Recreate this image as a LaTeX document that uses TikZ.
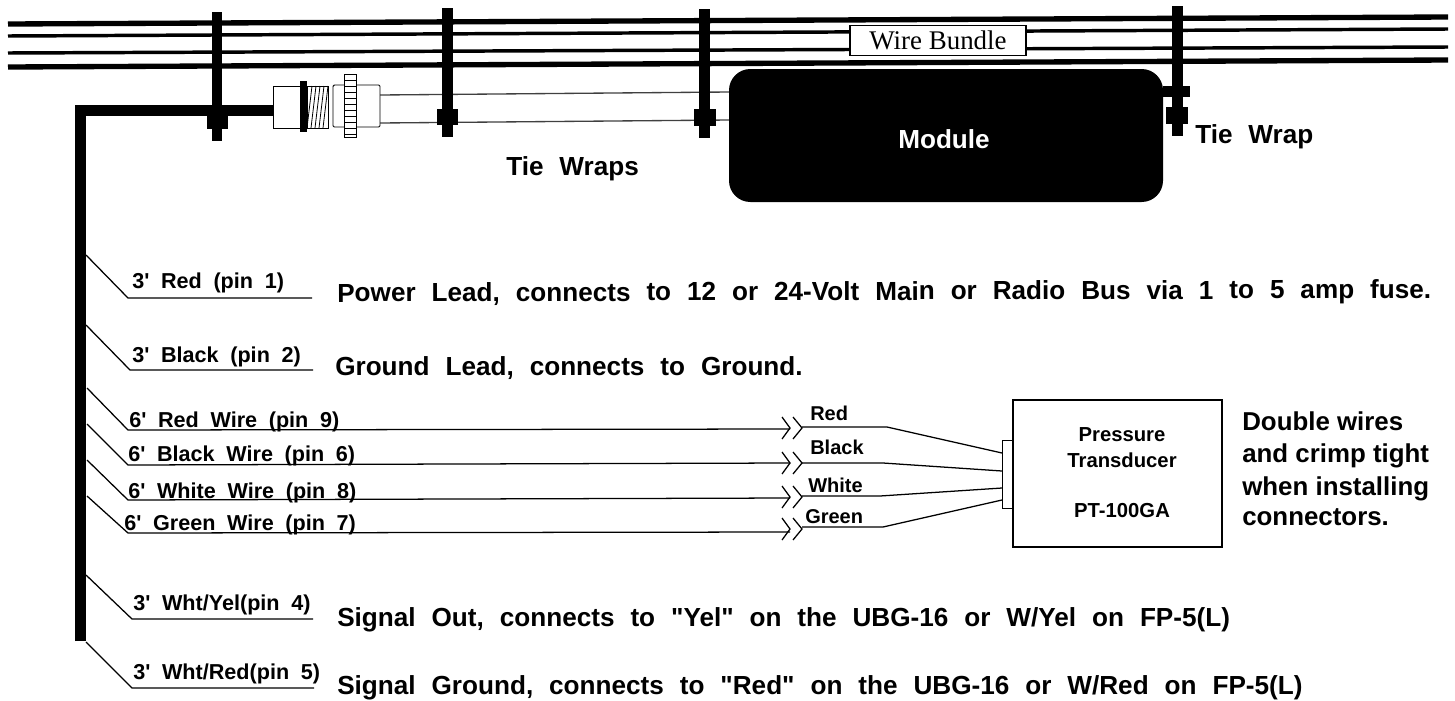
\documentclass[tikz,border=0pt]{standalone}
\usepackage{fontspec}
\newfontfamily\nfont{Liberation Sans}
\newfontfamily\wbfont{Liberation Serif}
\newcommand{\smallgap}{\spaceskip=0.54em\relax}
\newcommand{\biggap}{\spaceskip=0.61em\relax}
\tikzset{
  px/.style={x=0.75pt,y=-0.75pt},
  bundle thick/.style={line width=4pt,black},
  bundle thin/.style={line width=2.6pt,black},
  tie/.style={fill=black,draw=none},
  leadline/.style={line width=0.95pt,black},
  small/.style={font=\nfont\fontsize{16.2pt}{18pt}\selectfont\bfseries\smallgap,anchor=base west,inner sep=0pt},
  big/.style={font=\nfont\fontsize{19.6pt}{22pt}\selectfont\bfseries\biggap,anchor=base west,inner sep=0pt},
  note/.style={font=\nfont\fontsize{19.4pt}{22pt}\selectfont\bfseries,anchor=base west,inner sep=0pt},
  mid/.style={font=\nfont\fontsize{15.2pt}{18pt}\selectfont\bfseries,anchor=base,inner sep=0pt},
  wirelabel/.style={font=\nfont\fontsize{15pt}{18pt}\selectfont\bfseries,anchor=base west,inner sep=0pt},
  thinbody/.style={draw=black,line width=0.7pt,fill=white},
}
\newcommand{\chev}[2]{%
  \draw[leadline] (#1-8,#2-11) -- (#1,#2) -- (#1-8,#2+11);
  \draw[leadline] (#1+3,#2-11) -- (#1+12,#2) -- (#1+3,#2+11);
}
\begin{document}
\begin{tikzpicture}[px]
\useasboundingbox (0,0) rectangle (1455,700);
\fill[white] (0,0) rectangle (1455,700);
% wire bundle
\coordinate (w1l) at (8,24); \coordinate (w1r) at (1448,17);
\coordinate (w2l) at (8,36); \coordinate (w2r) at (1448,29);
\coordinate (w3l) at (8,53); \coordinate (w3r) at (1448,47);
\coordinate (w4l) at (8,67); \coordinate (w4r) at (1448,60);
\draw[bundle thick] (w1l) -- (w1r);
\draw[bundle thin] (w2l) -- (w2r);
\draw[bundle thin] (w3l) -- (w3r);
\draw[bundle thick] (w4l) -- (w4r);
\node[draw=black,line width=0.9pt,fill=white,minimum width=132pt,minimum height=23pt,inner sep=0pt,font=\wbfont\fontsize{20.2pt}{22pt}\selectfont] (bundle) at (938,40.5) {Wire Bundle};
% main cable
\draw[line width=8pt,black,line join=miter] (80.5,641) -- (80.5,110.5) -- (275,110.5);
% connector
\coordinate (cu) at (380,95); \coordinate (cl) at (380,123);
\coordinate (mu) at (729,92); \coordinate (ml) at (729,120);
\draw[line width=1pt,black!75] (cu) -- (mu);
\draw[line width=1pt,black!75] (cl) -- (ml);
\draw[thinbody] (273,86) rectangle (301,128);
\draw[thinbody] (307,86) rectangle (328,128);
\foreach \xx in {307,311,...,323}{\draw[line width=0.6pt] (\xx,128) -- (\xx+5,86);}
\fill[black] (300,81) rectangle (307,132);
\draw[thinbody,rounded corners=1pt] (333,85) rectangle (380,127);
\draw[thinbody] (344,74) rectangle (356,137);
\foreach \yy in {80,86,...,134}{\draw[line width=0.7pt] (344,\yy) -- (356,\yy);}
% module
\node[fill=black,rounded corners=16pt,minimum width=325.5pt,minimum height=99.75pt,inner sep=0pt] (module) at (946,135.5) {};
\node[text=white,font=\nfont\fontsize{19.6pt}{22pt}\selectfont\bfseries,anchor=base,inner sep=0pt] (modlabel) at (944,148) {Module};
% tie wraps
\fill[tie] (212,12) rectangle (222,141); \fill[tie] (207,107) rectangle (228,129);
\fill[tie] (442,8) rectangle (453,137); \fill[tie] (437,109) rectangle (458,125);
\fill[tie] (699,9) rectangle (710,138); \fill[tie] (694,109) rectangle (716,126);
\fill[tie] (1172,6) rectangle (1183,136); \fill[tie] (1166,107) rectangle (1188,124);
\fill[tie] (1163,86) rectangle (1190,97);
\node[big] (tw1) at (506,175) {Tie Wraps};
\node[big] (tw2) at (1195,143) {Tie Wrap};
% leads
\foreach \n/\ax/\ay/\bx/\by/\ex in {a/86/255/128/298/312,b/86/325/130/370/313,e/86/575/132/619/313,f/86/642/132/688/314}{
  \coordinate (\n0) at (\ax,\ay); \coordinate (\n1) at (\bx,\by); \coordinate (\n2) at (\ex,\by);
  \draw[leadline] (\n0) -- (\n1) -- (\n2);
}
\node[small] (la) at (132,288) {3' Red (pin 1)};
\node[small] (lb) at (132,362) {3' Black (pin 2)};
\node[small] (le) at (133,610) {3' Wht/Yel(pin 4)};
\node[small] (lf) at (133,679) {3' Wht/Red(pin 5)};
\node[big,rotate=0.2] (ta) at (337,302) {Power Lead, connects to 12 or 24-Volt Main or Radio Bus via 1 to 5 amp fuse.};
\node[big] (tb) at (335,375) {Ground Lead, connects to Ground.};
\node[big] (te) at (337,626) {Signal Out, connects to "Yel" on the UBG-16 or W/Yel on FP-5(L)};
\node[big] (tf) at (337,694) {Signal Ground, connects to "Red" on the UBG-16 or W/Red on FP-5(L)};
% long wires to transducer
\foreach \n/\ay/\by/\ex/\cy/\kx/\dy in {c/388/430/429/427/887/453,d/424/465/463/463/883/471,g/460/500/498/496/880/488,h/496/533/532/527/883/500}{
  \coordinate (\n0) at (87,\ay); \coordinate (\n1) at (128,\by); \coordinate (\n2) at (790,\ex);
  \coordinate (\n3) at (802,\cy); \coordinate (\n4) at (\kx,\cy); \coordinate (\n5) at (1002,\dy);
  \draw[leadline] (\n0) -- (\n1) -- (\n2);
  \draw[leadline] (\n3) -- (\n4) -- (\n5);
}
\chev{790}{428}\chev{790}{463}\chev{790}{497}\chev{790}{529}
\node[small] (lc) at (129,427) {6' Red Wire (pin 9)};
\node[small] (ld) at (128,461) {6' Black Wire (pin 6)};
\node[small] (lg) at (128,498) {6' White Wire (pin 8)};
\node[small] (lh) at (124,530) {6' Green Wire (pin 7)};
\node[wirelabel] (cr) at (810,420) {Red};
\node[wirelabel] (cb) at (810,454) {Black};
\node[wirelabel] (cw) at (808,492) {White};
\node[wirelabel] (cg) at (805,523) {Green};
% transducer
\draw[thinbody] (1002,440) rectangle (1013,508);
\node[draw=black,line width=0.9pt,fill=none,minimum width=156.75pt,minimum height=110.25pt,inner sep=0pt] (pt) at (1117.5,473.5) {};
\node[mid] (p1) at (1122,441) {Pressure};
\node[mid] (p2) at (1122,467) {Transducer};
\node[mid] (p3) at (1122,517) {PT-100GA};
\node[note] (d1) at (1242,430) {Double wires};
\node[note] (d2) at (1242,462) {and crimp tight};
\node[note] (d3) at (1242,495) {when installing};
\node[note] (d4) at (1242,525) {connectors.};
\end{tikzpicture}
\end{document}
